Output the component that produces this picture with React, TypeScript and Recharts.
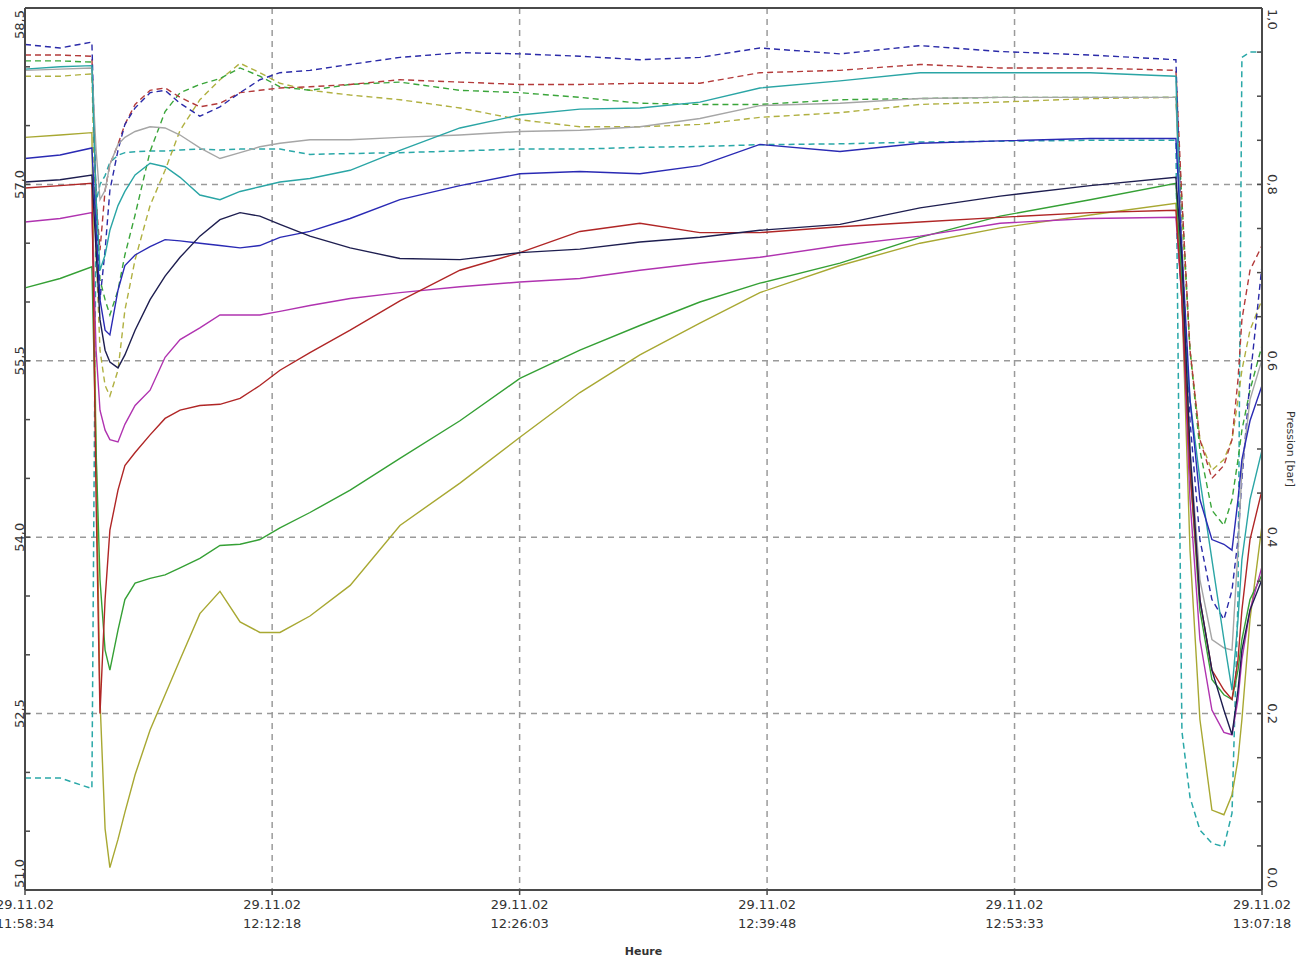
import React from 'react';
import { LineChart, Line, XAxis, YAxis, CartesianGrid, ReferenceLine, Label } from 'recharts';

// time axis: seconds since 29.11.02 11:58:34
const dateLabel = '29.11.02';
const timeTicks = [0, 824, 1649, 2474, 3299, 4124];
const timeTickLabels = ['11:58:34', '12:12:18', '12:26:03', '12:39:48', '12:53:33', '13:07:18'];
const gridTimes = [824, 1649, 2474, 3299];

const tempTicks = [51, 51.5, 52, 52.5, 53, 53.5, 54, 54.5, 55, 55.5, 56, 56.5, 57, 57.5, 58, 58.5];
const tempLabelled = [51, 52.5, 54, 55.5, 57, 58.5];
const gridTemps = [52.5, 54, 55.5, 57];
const pressTicks = [0, 0.05, 0.1, 0.15, 0.2, 0.25, 0.3, 0.35, 0.4, 0.45, 0.5, 0.55, 0.6, 0.65, 0.7, 0.75, 0.8, 0.85, 0.9, 0.95, 1];
const pressLabelled = [0, 0.2, 0.4, 0.6, 0.8, 1];

const times = [0, 117, 223, 237, 250, 267, 283, 310, 333, 367, 417, 467, 517, 583, 650, 717, 783, 850, 950, 1084, 1250, 1450, 1650, 1850, 2050, 2250, 2450, 2717, 2984, 3251, 3551, 3837, 3857, 3884, 3917, 3957, 3997, 4024, 4044, 4057, 4084, 4124];

const oliveTemp = [57.40, 57.42, 57.44, 54.74, 52.62, 51.52, 51.19, 51.43, 51.66, 51.98, 52.36, 52.66, 52.96, 53.35, 53.54, 53.28, 53.19, 53.19, 53.33, 53.59, 54.10, 54.46, 54.85, 55.23, 55.55, 55.82, 56.08, 56.31, 56.50, 56.63, 56.74, 56.84, 56.02, 53.89, 52.45, 51.68, 51.64, 51.81, 52.11, 52.45, 53.30, 54.10];
const greenTemp = [56.12, 56.20, 56.30, 54.74, 53.64, 53.04, 52.87, 53.21, 53.47, 53.61, 53.65, 53.68, 53.74, 53.82, 53.93, 53.94, 53.98, 54.08, 54.21, 54.40, 54.67, 54.99, 55.35, 55.59, 55.80, 56.00, 56.16, 56.33, 56.55, 56.73, 56.87, 57.01, 56.10, 54.57, 53.38, 52.79, 52.66, 52.62, 52.87, 53.13, 53.47, 53.68];
const redTemp = [56.97, 56.99, 57.01, 54.32, 52.50, 53.47, 54.06, 54.40, 54.61, 54.72, 54.87, 55.01, 55.08, 55.12, 55.13, 55.18, 55.29, 55.42, 55.57, 55.76, 56.01, 56.27, 56.42, 56.60, 56.67, 56.59, 56.59, 56.64, 56.68, 56.72, 56.76, 56.78, 56.02, 54.57, 53.47, 52.87, 52.70, 52.62, 52.96, 53.38, 53.98, 54.40];
const magentaTemp = [56.68, 56.71, 56.76, 55.59, 55.08, 54.91, 54.83, 54.81, 54.96, 55.12, 55.25, 55.53, 55.68, 55.78, 55.89, 55.89, 55.89, 55.92, 55.97, 56.03, 56.08, 56.13, 56.17, 56.20, 56.27, 56.33, 56.38, 56.48, 56.56, 56.67, 56.71, 56.72, 56.02, 54.32, 53.13, 52.53, 52.34, 52.32, 52.62, 52.96, 53.38, 53.75];
const navyTemp = [57.02, 57.04, 57.08, 56.44, 55.85, 55.59, 55.49, 55.44, 55.55, 55.76, 56.02, 56.22, 56.38, 56.56, 56.70, 56.76, 56.73, 56.66, 56.56, 56.46, 56.37, 56.36, 56.42, 56.45, 56.51, 56.55, 56.61, 56.66, 56.80, 56.90, 56.99, 57.06, 56.36, 54.74, 53.47, 52.87, 52.53, 52.32, 52.70, 53.04, 53.38, 53.64];
const blueTemp = [57.22, 57.25, 57.31, 56.61, 56.02, 55.76, 55.72, 56.10, 56.31, 56.40, 56.47, 56.53, 56.52, 56.50, 56.48, 56.46, 56.48, 56.55, 56.60, 56.71, 56.87, 56.99, 57.09, 57.11, 57.09, 57.16, 57.34, 57.28, 57.35, 57.37, 57.39, 57.39, 56.44, 55.17, 54.32, 53.98, 53.94, 53.89, 54.32, 54.66, 54.99, 55.29];
const grayTemp = [57.97, 57.98, 57.99, 57.29, 56.87, 56.95, 57.17, 57.34, 57.40, 57.45, 57.49, 57.48, 57.42, 57.31, 57.22, 57.27, 57.32, 57.35, 57.38, 57.38, 57.40, 57.42, 57.45, 57.46, 57.49, 57.56, 57.67, 57.69, 57.73, 57.74, 57.74, 57.74, 56.44, 54.74, 53.64, 53.13, 53.06, 53.04, 53.89, 54.57, 55.17, 55.51];
const tealTemp = [57.98, 58.00, 58.01, 56.87, 56.27, 56.40, 56.61, 56.82, 56.94, 57.08, 57.18, 57.15, 57.06, 56.91, 56.87, 56.94, 56.98, 57.02, 57.05, 57.12, 57.29, 57.48, 57.59, 57.64, 57.65, 57.70, 57.82, 57.88, 57.95, 57.95, 57.95, 57.92, 56.02, 55.17, 54.49, 53.81, 53.13, 52.70, 53.30, 53.81, 54.32, 54.74];
const blueDashTemp = [58.19, 58.16, 58.21, 56.87, 56.02, 56.44, 56.95, 57.29, 57.51, 57.65, 57.78, 57.80, 57.69, 57.58, 57.66, 57.78, 57.89, 57.95, 57.97, 58.02, 58.08, 58.12, 58.11, 58.09, 58.06, 58.08, 58.16, 58.11, 58.18, 58.13, 58.10, 58.06, 56.44, 54.99, 53.98, 53.47, 53.30, 53.55, 53.98, 54.49, 55.34, 56.31];
const redDashTemp = [58.10, 58.10, 58.09, 56.87, 56.44, 56.95, 57.17, 57.34, 57.51, 57.68, 57.80, 57.82, 57.74, 57.66, 57.69, 57.78, 57.80, 57.82, 57.83, 57.85, 57.89, 57.87, 57.85, 57.85, 57.86, 57.86, 57.95, 57.97, 58.02, 57.99, 57.99, 57.97, 56.87, 55.59, 54.83, 54.50, 54.61, 54.83, 55.34, 55.85, 56.27, 56.48];
const greenDashTemp = [58.05, 58.05, 58.04, 56.87, 56.19, 56.02, 55.89, 56.10, 56.40, 56.74, 57.28, 57.62, 57.78, 57.85, 57.90, 57.99, 57.92, 57.83, 57.80, 57.85, 57.87, 57.80, 57.78, 57.74, 57.69, 57.68, 57.68, 57.72, 57.73, 57.74, 57.74, 57.74, 56.87, 55.59, 54.74, 54.23, 54.10, 54.32, 54.66, 54.91, 55.25, 55.63];
const oliveDashTemp = [57.92, 57.92, 57.94, 56.44, 55.59, 55.29, 55.20, 55.42, 55.93, 56.36, 56.82, 57.12, 57.46, 57.72, 57.89, 58.03, 57.95, 57.86, 57.80, 57.76, 57.72, 57.65, 57.55, 57.49, 57.49, 57.51, 57.57, 57.61, 57.68, 57.70, 57.73, 57.74, 56.70, 55.59, 54.83, 54.57, 54.66, 54.83, 55.17, 55.42, 55.76, 56.02];
const pressure = [0.127, 0.127, 0.115, 0.78, 0.80, 0.81, 0.825, 0.833, 0.836, 0.837, 0.838, 0.838, 0.839, 0.84, 0.839, 0.84, 0.84, 0.84, 0.834, 0.835, 0.836, 0.838, 0.84, 0.84, 0.842, 0.843, 0.845, 0.846, 0.848, 0.849, 0.85, 0.85, 0.18, 0.105, 0.068, 0.053, 0.049, 0.087, 0.33, 0.944, 0.95, 0.95];

const data = times.map((t, i) => ({
  t,
  oliveDash: oliveDashTemp[i],
  greenDash: greenDashTemp[i],
  redDash: redDashTemp[i],
  blueDash: blueDashTemp[i],
  gray: grayTemp[i],
  teal: tealTemp[i],
  olive: oliveTemp[i],
  green: greenTemp[i],
  magenta: magentaTemp[i],
  red: redTemp[i],
  blue: blueTemp[i],
  navy: navyTemp[i],
  pressure: pressure[i],
}));

const series = [
  { key: 'oliveDash', color: '#b0b040', dashed: true },
  { key: 'greenDash', color: '#3aa53a', dashed: true },
  { key: 'redDash', color: '#b33a3a', dashed: true },
  { key: 'blueDash', color: '#2a2aa8', dashed: true },
  { key: 'gray', color: '#a6a6a6', dashed: false },
  { key: 'teal', color: '#2aa5a5', dashed: false },
  { key: 'olive', color: '#a8a832', dashed: false },
  { key: 'green', color: '#35a035', dashed: false },
  { key: 'magenta', color: '#b033b0', dashed: false },
  { key: 'red', color: '#b02626', dashed: false },
  { key: 'blue', color: '#2a2ab4', dashed: false },
  { key: 'navy', color: '#1e1e50', dashed: false },
];

const AXIS = '#4a4a4a';
const TEXT = '#333';
const FONT = '"DejaVu Sans", Verdana, sans-serif';

const fmt = (v: number) => v.toFixed(1).replace('.', ',');
const isIn = (list: number[], v: number) => list.some((l) => Math.abs(l - v) < 1e-6);

function TempTick({ x, y, payload }: any) {
  const v = payload.value;
  const first = v === tempLabelled[0];
  const last = v === tempLabelled[tempLabelled.length - 1];
  const ty = first ? y - 2 : last ? y + 2 : y;
  const tx = x - 1;
  return (
    <g>
      <line x1={x} y1={y} x2={x + 5} y2={y} stroke={AXIS} strokeWidth={1.5} />
      {isIn(tempLabelled, v) && (
        <text
          x={tx}
          y={ty}
          transform={`rotate(-90, ${tx}, ${ty})`}
          textAnchor={first ? 'start' : last ? 'end' : 'middle'}
          fontSize={13}
          fontFamily={FONT}
          fill={TEXT}
        >
          {fmt(v)}
        </text>
      )}
    </g>
  );
}

function PressTick({ x, y, payload }: any) {
  const v = payload.value;
  const first = v === pressLabelled[0];
  const last = v === pressLabelled[pressLabelled.length - 1];
  const ty = first ? y - 2 : last ? y + 1 : y;
  const tx = x + 6;
  return (
    <g>
      <line x1={x} y1={y} x2={x - 5} y2={y} stroke={AXIS} strokeWidth={1.5} />
      {isIn(pressLabelled, v) && (
        <text
          x={tx}
          y={ty}
          transform={`rotate(90, ${tx}, ${ty})`}
          textAnchor={first ? 'end' : last ? 'start' : 'middle'}
          fontSize={13}
          fontFamily={FONT}
          fill={TEXT}
        >
          {fmt(v)}
        </text>
      )}
    </g>
  );
}

function TimeTick({ x, y, payload, index }: any) {
  return (
    <g>
      <line x1={x} y1={y} x2={x} y2={y + 5} stroke={AXIS} strokeWidth={1.5} />
      <text x={x} y={y + 19} textAnchor="middle" fontSize={13} fontFamily={FONT} fill={TEXT}>
        {dateLabel}
      </text>
      <text x={x} y={y + 38} textAnchor="middle" fontSize={13} fontFamily={FONT} fill={TEXT}>
        {timeTickLabels[index] ?? ''}
      </text>
    </g>
  );
}

export default function App() {
  return (
    <div style={{ position: 'absolute', left: 0, top: 0, width: 1296, height: 960, background: '#fff' }}>
      <LineChart width={1296} height={960} data={data} margin={{ top: 8, right: 0, bottom: 0, left: 0 }}>
        <CartesianGrid
          yAxisId="temp"
          stroke="#9a9a9a"
          strokeWidth={1.5}
          strokeDasharray="6 5"
          horizontalValues={gridTemps}
          verticalValues={gridTimes}
        />
        <XAxis
          dataKey="t"
          type="number"
          domain={[0, 4124]}
          ticks={timeTicks}
          interval={0}
          height={70}
          tickSize={0}
          tickMargin={0}
          tickLine={false}
          axisLine={{ stroke: AXIS, strokeWidth: 2 }}
          tick={(p: any) => <TimeTick {...p} />}
        >
          <Label
            content={({ viewBox }: any) => (
              <text
                x={viewBox.x + viewBox.width / 2}
                y={viewBox.y + viewBox.height - 5}
                textAnchor="middle"
                fontSize={11}
                fontWeight="bold"
                fontFamily={FONT}
                fill={TEXT}
              >
                Heure
              </text>
            )}
          />
        </XAxis>
        <YAxis
          yAxisId="temp"
          type="number"
          domain={[51, 58.5]}
          ticks={tempTicks}
          interval={0}
          width={25}
          tickSize={0}
          tickMargin={0}
          tickLine={false}
          axisLine={{ stroke: AXIS, strokeWidth: 2 }}
          tick={(p: any) => <TempTick {...p} />}
        />
        <YAxis
          yAxisId="press"
          orientation="right"
          type="number"
          domain={[0, 1]}
          ticks={pressTicks}
          interval={0}
          width={34}
          tickSize={0}
          tickMargin={0}
          tickLine={false}
          axisLine={{ stroke: AXIS, strokeWidth: 2 }}
          tick={(p: any) => <PressTick {...p} />}
        >
          <Label
            content={({ viewBox }: any) => {
              const lx = viewBox.x + viewBox.width - 9;
              const ly = viewBox.y + viewBox.height / 2;
              return (
                <text
                  x={lx}
                  y={ly}
                  transform={`rotate(90, ${lx}, ${ly})`}
                  textAnchor="middle"
                  fontSize={11}
                  fontFamily={FONT}
                  fill={TEXT}
                >
                  Pression [bar]
                </text>
              );
            }}
          />
        </YAxis>
        <ReferenceLine yAxisId="temp" y={58.5} stroke={AXIS} strokeWidth={2} ifOverflow="visible" />
        <Line
          yAxisId="press"
          dataKey="pressure"
          type="linear"
          stroke="#2aa8a8"
          strokeWidth={1.5}
          strokeDasharray="6 4"
          dot={false}
          isAnimationActive={false}
        />
        {series.map((s) => (
          <Line
            key={s.key}
            yAxisId="temp"
            dataKey={s.key}
            type="linear"
            stroke={s.color}
            strokeWidth={1.4}
            strokeDasharray={s.dashed ? '6 4' : undefined}
            dot={false}
            isAnimationActive={false}
          />
        ))}
      </LineChart>
    </div>
  );
}
